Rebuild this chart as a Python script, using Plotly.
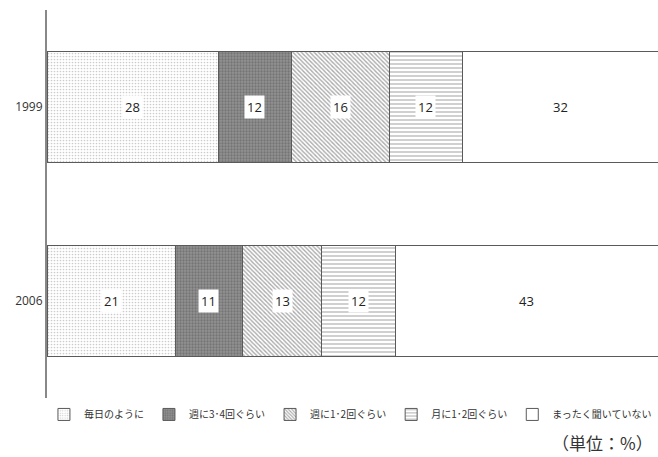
import plotly.graph_objects as go

years = ["1999", "2006"]
categories = ["毎日のように", "週に3･4回ぐらい", "週に1･2回ぐらい", "月に1･2回ぐらい", "まったく聞いていない"]
values_1999 = [28, 12, 16, 12, 32]
values_2006 = [21, 11, 13, 12, 43]

patterns = [
    dict(shape=".", fgcolor="#9a9a9a", bgcolor="#ffffff", size=3, solidity=0.25),
    dict(shape=".", fgcolor="#555555", bgcolor="#929292", size=3, solidity=0.45),
    dict(shape="\\", fgcolor="#555555", bgcolor="#ffffff", size=3, solidity=0.45),
    dict(shape="-", fgcolor="#777777", bgcolor="#ffffff", size=4, solidity=0.35),
    None,
]

ypos = list(range(len(years)))

fig = go.Figure()
for i, cat in enumerate(categories):
    marker = dict(color="#ffffff", line=dict(color="#5a5a5a", width=1))
    if patterns[i] is not None:
        marker["pattern"] = patterns[i]
    fig.add_trace(go.Bar(
        y=ypos, x=[values_1999[i], values_2006[i]], orientation="h", name=cat,
        marker=marker, width=0.57,
    ))

annotations = []
for yp, vals in zip(ypos, [values_1999, values_2006]):
    cum = 0
    for v in vals:
        annotations.append(dict(
            x=cum + v / 2, y=yp, xref="x", yref="y", text=str(v), showarrow=False,
            font=dict(size=13, color="#222", family="Open Sans"),
            bgcolor="#ffffff", borderpad=2,
        ))
        cum += v

annotations.append(dict(
    x=1, y=-0.115, xref="paper", yref="paper", xanchor="right", yanchor="middle",
    text="（単位：%）", showarrow=False, xshift=-3,
    font=dict(size=17, color="#333", family="Noto Sans CJK JP"),
))

fig.update_layout(
    barmode="stack",
    width=658, height=457,
    margin=dict(l=47, r=0, t=10, b=59),
    plot_bgcolor="#ffffff", paper_bgcolor="#ffffff",
    font=dict(family="Noto Sans CJK JP", size=12, color="#333"),
    showlegend=True,
    legend=dict(orientation="h", x=-0.005, y=-0.005, yanchor="top", xanchor="left",
                font=dict(size=10, color="#333"), itemwidth=30, traceorder="normal"),
    xaxis=dict(range=[0, 100], showgrid=False, showticklabels=False, zeroline=False,
               showline=False, ticks=""),
    yaxis=dict(range=[1.5, -0.5], tickmode="array", tickvals=ypos, ticktext=years,
               showline=True, linecolor="#888", linewidth=2, zeroline=False,
               ticks="", showgrid=False, tickfont=dict(size=12, family="Open Sans", color="#333"),
               ticksuffix="  "),
    annotations=annotations,
)

fig.write_html("out.html")
